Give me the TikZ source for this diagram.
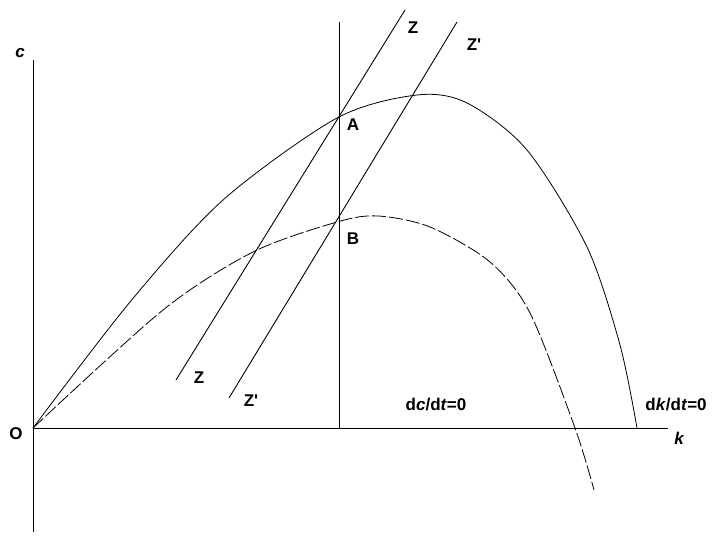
\documentclass[tikz,border=0pt]{standalone}
\usepackage{fontspec}
\setmainfont{Liberation Sans}
\usetikzlibrary{positioning}
\tikzset{gr/.style={x=1pt,y=-1pt,line width=1pt,font=\fontsize{17}{20}\selectfont\bfseries},
  lbl/.style={inner sep=1pt}}

\begin{document}
\begin{tikzpicture}[gr]
  \useasboundingbox (0,0) rectangle (722,537);
  \coordinate (o) at (33,428);\coordinate (ctop) at (33,60);\coordinate (cbot) at (33,532);
  \coordinate (kend) at (668,428);
  \draw (cbot)--(ctop);\draw (o)--(kend);
  \node[lbl] (c) at (20,53){\itshape c};\node[lbl] (k) at (679,438){\itshape k};
  \node[lbl] (O) at (16,434){O};
  % dc/dt=0 locus
  \coordinate (vtop) at (339,22);\coordinate (vbot) at (339,428);
  \draw (vbot)--(vtop);\node[lbl] (dc) at (436,405){d\textit{c}/d\textit{t}=0};
  % saddle paths
  \coordinate (z1) at (176,380);\coordinate (z2) at (405,10);
  \coordinate (zp1) at (229,398);\coordinate (zp2) at (457,22);
  \draw[line width=.9pt] (z1)--(z2);\draw[line width=.9pt] (zp1)--(zp2);
  \node[lbl] (zt) at (413,28){Z};\node[lbl] (zb) at (199,378){Z};
  \node[lbl] (zpt) at (474,45){Z\textquotesingle};\node[lbl] (zpb) at (251,401){Z\textquotesingle};
  % dk/dt=0 loci
  \draw[line width=.8pt] plot[smooth,tension=.5] coordinates{(33,428) (130,302) (223,200) (337,118) (417,95) (467,103) (527,150) (587,247) (620,345) (637,428)};
  \draw[line width=.8pt,dashed,dash pattern=on 14pt off 3pt] plot[smooth,tension=.5] coordinates{(33,428) (163,310) (253,252) (337,222) (378,216) (430,227) (490,262) (530,313) (575,428) (594,490)};
  \node[lbl] (A) at (353,125){A};\node[lbl] (B) at (353,239){B};
  \node[lbl] (dk) at (676,405){d\textit{k}/d\textit{t}=0};
\end{tikzpicture}
\end{document}
